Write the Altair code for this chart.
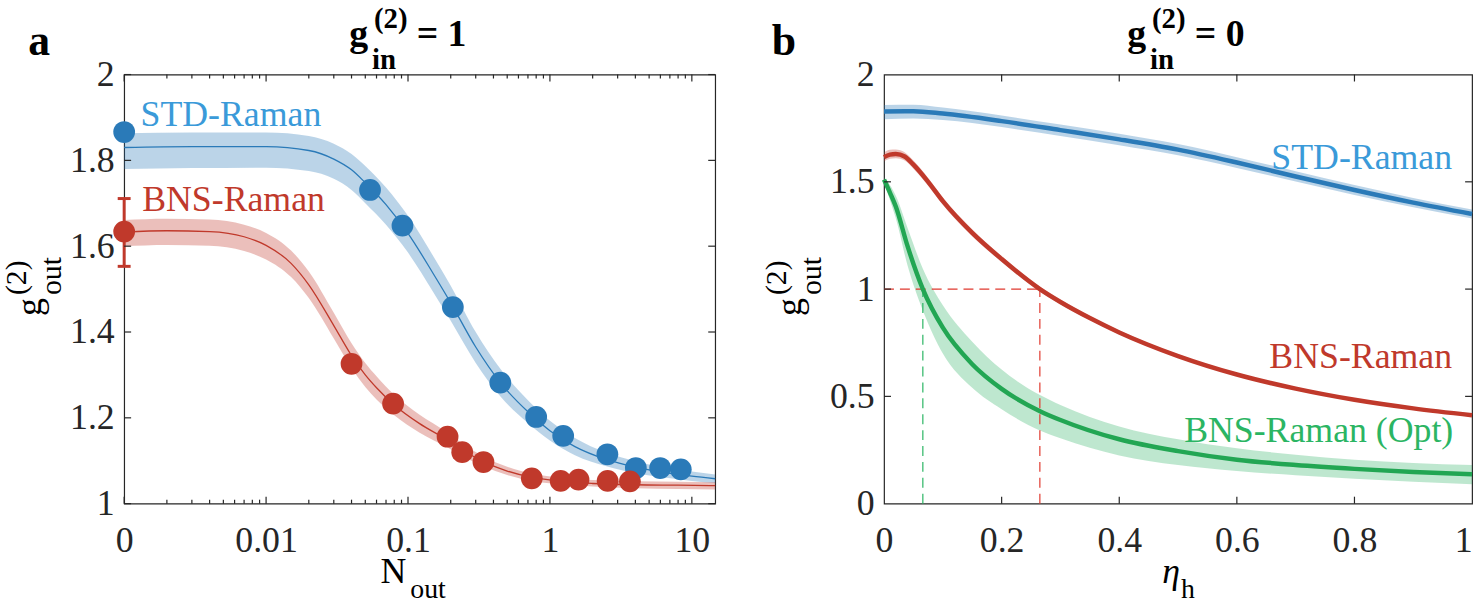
import altair as alt
import pandas as pd

FONT = "Liberation Serif"
INK = "#262626"
BLUE = "#2a7ab8"
BLUE_TXT = "#3a9ad9"
RED = "#c0392b"
GREEN = "#22a653"
GREEN_TXT = "#2bb563"

# ---------------- panel a: g2_out versus N_out ----------------
std_n = [0.001, 0.054, 0.0914, 0.207, 0.447, 0.80, 1.24, 2.54, 4.03, 5.98, 8.36]
std_g = [1.866, 1.731, 1.648, 1.458, 1.282, 1.202, 1.158, 1.115, 1.083, 1.083, 1.080]
bns_n = [0.001, 0.040, 0.0785, 0.190, 0.241, 0.340, 0.745, 1.19, 1.59, 2.55, 3.66]
bns_g = [1.634, 1.326, 1.233, 1.156, 1.120, 1.097, 1.059, 1.053, 1.056, 1.053, 1.052]
bns_err_n = [0.001]
bns_err_lo = [1.553]
bns_err_hi = [1.711]

std_fit_n = [0.001, 0.003, 0.01, 0.02, 0.03, 0.04, 0.05, 0.07, 0.1, 0.15, 0.2,
             0.3, 0.45, 0.7, 1.0, 1.5, 2.5, 4.0, 6.0, 10.0, 14.6]
std_fit_g = [1.830, 1.832, 1.832, 1.823, 1.803, 1.778, 1.748, 1.697, 1.630, 1.537, 1.468,
             1.365, 1.281, 1.214, 1.170, 1.133, 1.103, 1.085, 1.074, 1.064, 1.058]
std_fit_lo = [1.780, 1.782, 1.783, 1.775, 1.757, 1.731, 1.700, 1.650, 1.585, 1.494, 1.426,
              1.328, 1.249, 1.188, 1.147, 1.113, 1.087, 1.071, 1.062, 1.053, 1.048]
std_fit_hi = [1.863, 1.865, 1.865, 1.857, 1.839, 1.815, 1.787, 1.737, 1.671, 1.578, 1.508,
              1.400, 1.313, 1.241, 1.193, 1.153, 1.119, 1.099, 1.086, 1.075, 1.068]

bns_fit_n = [0.001, 0.002, 0.004, 0.007, 0.01, 0.015, 0.02, 0.03, 0.04, 0.05, 0.06, 0.08,
             0.12, 0.19, 0.25, 0.34, 0.5, 0.75, 1.2, 2.0, 4.0, 8.0, 14.6]
bns_fit_g = [1.633, 1.636, 1.634, 1.622, 1.602, 1.560, 1.510, 1.415, 1.345, 1.300, 1.270, 1.230,
             1.187, 1.148, 1.122, 1.098, 1.076, 1.061, 1.052, 1.047, 1.044, 1.043, 1.042]
bns_fit_lo = [1.600, 1.603, 1.601, 1.589, 1.569, 1.528, 1.479, 1.385, 1.316, 1.272, 1.243, 1.206,
              1.166, 1.131, 1.108, 1.087, 1.067, 1.053, 1.045, 1.040, 1.036, 1.034, 1.033]
bns_fit_hi = [1.661, 1.664, 1.662, 1.650, 1.631, 1.590, 1.541, 1.445, 1.374, 1.328, 1.297, 1.254,
              1.208, 1.166, 1.137, 1.110, 1.086, 1.070, 1.060, 1.055, 1.052, 1.051, 1.050]

# ---------------- panel b: g2_out versus heralding efficiency ----------------
eta_std = [0, 0.05, 0.1, 0.2, 0.3, 0.4, 0.5, 0.6, 0.7, 0.8, 0.9, 1.0]
std_b = [1.828, 1.829, 1.818, 1.783, 1.741, 1.698, 1.650, 1.590, 1.525, 1.462, 1.403, 1.350]
std_b_lo = [1.792, 1.795, 1.788, 1.755, 1.714, 1.671, 1.624, 1.565, 1.501, 1.439, 1.381, 1.329]
std_b_hi = [1.858, 1.859, 1.846, 1.809, 1.767, 1.724, 1.676, 1.615, 1.549, 1.485, 1.425, 1.371]

eta_bns = [0, 0.01, 0.02, 0.035, 0.05, 0.075, 0.1, 0.15, 0.2, 0.265, 0.3, 0.35, 0.4,
           0.5, 0.6, 0.7, 0.8, 0.9, 1.0]
bns_b = [1.615, 1.627, 1.630, 1.618, 1.580, 1.500, 1.410, 1.262, 1.140, 1.000, 0.940, 0.865,
         0.798, 0.688, 0.602, 0.536, 0.484, 0.444, 0.412]
bns_b_lo = [1.595, 1.607, 1.610, 1.599, 1.561, 1.482, 1.393, 1.246, 1.126, 0.988, 0.929, 0.855,
            0.789, 0.680, 0.595, 0.530, 0.478, 0.439, 0.407]
bns_b_hi = [1.637, 1.649, 1.651, 1.638, 1.599, 1.518, 1.427, 1.278, 1.154, 1.012, 0.951, 0.875,
            0.807, 0.696, 0.609, 0.542, 0.490, 0.449, 0.417]

eta_opt = [0, 0.01, 0.02, 0.04, 0.066, 0.1, 0.15, 0.2, 0.266, 0.3, 0.4, 0.5, 0.6, 0.7, 0.8, 0.9, 1.0]
opt_b = [1.510, 1.450, 1.385, 1.200, 1.000, 0.820, 0.650, 0.535, 0.430, 0.390, 0.300, 0.245,
         0.205, 0.180, 0.162, 0.148, 0.137]
opt_b_lo = [1.500, 1.415, 1.330, 1.110, 0.900, 0.700, 0.540, 0.440, 0.340, 0.305, 0.225, 0.180,
            0.152, 0.132, 0.116, 0.102, 0.090]
opt_b_hi = [1.520, 1.485, 1.435, 1.285, 1.095, 0.925, 0.755, 0.625, 0.505, 0.460, 0.360, 0.300,
            0.258, 0.228, 0.205, 0.190, 0.180]

# efficiency at which g2_out reaches 1
cross_bns = 0.265
cross_opt = 0.066

# axis tick values
xa_major = [0.001, 0.01, 0.1, 1, 10]
xa_minor = [k * 10.0 ** e for e in range(-3, 2) for k in range(2, 10) if k * 10.0 ** e < 14.6]
ya_ticks = [1.0, 1.2, 1.4, 1.6, 1.8, 2.0]
xb_ticks = [0, 0.2, 0.4, 0.6, 0.8, 1.0]
yb_ticks = [0, 0.5, 1.0, 1.5, 2.0]

WA, WB, H = 595, 592, 432
one = pd.DataFrame({"k": [0]})


def make_axis(values, fmt, pad, **extra):
    return alt.Axis(values=values, format=fmt, title=None, ticks=False, tickSize=0,
                    domain=False, grid=False, labelFont=FONT, labelFontSize=36,
                    labelColor=INK, labelPadding=pad, labelFlush=False,
                    labelOverlap=False, **extra)


sxa = alt.Scale(type="log", domain=[0.001, 14.6], nice=False)
sya = alt.Scale(domain=[1, 2], nice=False, zero=False)
sxb = alt.Scale(domain=[0, 1], nice=False, zero=False)
syb = alt.Scale(domain=[0, 2], nice=False, zero=False)
axa = make_axis(xa_major, ".2~f", 20)
aya = make_axis(ya_ticks, ".1~f", 10)
axb = make_axis(xb_ticks, ".1~f", 20,
                labelAlign={"condition": {"test": "datum.value == 1", "value": "right"},
                            "value": "center"})
ayb = make_axis(yb_ticks, ".1~f", 10)


def XA(f="x"):
    return alt.X(f"{f}:Q", scale=sxa, axis=axa)


def YA(f="y"):
    return alt.Y(f"{f}:Q", scale=sya, axis=aya)


def XB(f="x"):
    return alt.X(f"{f}:Q", scale=sxb, axis=axb)


def YB(f="y"):
    return alt.Y(f"{f}:Q", scale=syb, axis=ayb)


def txt(text, x, y, size, weight="normal", style="normal", angle=0, color="black"):
    return alt.Chart(one).mark_text(
        text=text, font=FONT, fontSize=size, fontWeight=weight, fontStyle=style,
        angle=angle, align="left", baseline="alphabetic", color=color
    ).encode(x=alt.value(x), y=alt.value(y))


def inner_ticks(xvals, yvals, X, Y, width, major=7, minor=None, minor_len=4):
    """Inward-pointing ticks on all four sides of the box."""
    out = []
    dx = pd.DataFrame({"v": xvals})
    dy = pd.DataFrame({"v": yvals})
    rule = dict(color=INK, strokeWidth=1.2)
    out.append(alt.Chart(dx).mark_rule(**rule).encode(x=X("v"), y=alt.value(H - major), y2=alt.value(H)))
    out.append(alt.Chart(dx).mark_rule(**rule).encode(x=X("v"), y=alt.value(0), y2=alt.value(major)))
    out.append(alt.Chart(dy).mark_rule(**rule).encode(y=Y("v"), x=alt.value(0), x2=alt.value(major)))
    out.append(alt.Chart(dy).mark_rule(**rule).encode(y=Y("v"), x=alt.value(width - major), x2=alt.value(width)))
    if minor:
        dm = pd.DataFrame({"v": minor})
        out.append(alt.Chart(dm).mark_rule(**rule).encode(x=X("v"), y=alt.value(H - minor_len), y2=alt.value(H)))
        out.append(alt.Chart(dm).mark_rule(**rule).encode(x=X("v"), y=alt.value(0), y2=alt.value(minor_len)))
    return out


# ---------------- build panel a ----------------
std_band = pd.DataFrame({"x": std_fit_n, "lo": std_fit_lo, "hi": std_fit_hi, "y": std_fit_g})
bns_band = pd.DataFrame({"x": bns_fit_n, "lo": bns_fit_lo, "hi": bns_fit_hi, "y": bns_fit_g})
std_pts = pd.DataFrame({"x": std_n, "y": std_g})
bns_pts = pd.DataFrame({"x": bns_n, "y": bns_g})
bns_err = pd.DataFrame({"x": bns_err_n, "lo": bns_err_lo, "hi": bns_err_hi})

a_layers = [
    alt.Chart(one).mark_rect(opacity=0).encode(
        x=alt.value(-123.5), x2=alt.value(-122.5), y=alt.value(-72), y2=alt.value(-71)),
    alt.Chart(std_band).mark_area(color=BLUE, opacity=0.32, interpolate="monotone").encode(
        x=XA(), y=YA("lo"), y2="hi:Q"),
    alt.Chart(bns_band).mark_area(color=RED, opacity=0.32, interpolate="monotone").encode(
        x=XA(), y=YA("lo"), y2="hi:Q"),
    alt.Chart(std_band).mark_line(color=BLUE, strokeWidth=1.3, interpolate="monotone").encode(
        x=XA(), y=YA()),
    alt.Chart(bns_band).mark_line(color=RED, strokeWidth=1.3, interpolate="monotone").encode(
        x=XA(), y=YA()),
    alt.Chart(bns_err).mark_rule(color=RED, strokeWidth=3).encode(x=XA(), y=YA("lo"), y2="hi:Q"),
    alt.Chart(bns_err).mark_rule(color=RED, strokeWidth=3, xOffset=-6.5, x2Offset=6.5).encode(
        x=XA(), x2="x:Q", y=YA("lo")),
    alt.Chart(bns_err).mark_rule(color=RED, strokeWidth=3, xOffset=-6.5, x2Offset=6.5).encode(
        x=XA(), x2="x:Q", y=YA("hi")),
    alt.Chart(std_pts).mark_circle(color=BLUE, size=480, opacity=1).encode(x=XA(), y=YA()),
    alt.Chart(bns_pts).mark_circle(color=RED, size=480, opacity=1).encode(x=XA(), y=YA()),
    alt.Chart(pd.DataFrame({"x": [0.001305], "y": [1.880], "t": ["STD-Raman"]})).mark_text(
        align="left", baseline="alphabetic", font=FONT, fontSize=36, color=BLUE_TXT).encode(
        x=XA(), y=YA(), text="t:N"),
    alt.Chart(pd.DataFrame({"x": [0.00134], "y": [1.681], "t": ["BNS-Raman"]})).mark_text(
        align="left", baseline="alphabetic", font=FONT, fontSize=36, color=RED).encode(
        x=XA(), y=YA(), text="t:N"),
    # panel letter and title  g_in^(2) = 1
    txt("a", -96.5, -20, 44, weight="bold"),
    txt("g", 226.5, -29, 38, weight="bold"),
    txt("(2)", 251.5, -47, 29, weight="bold"),
    txt("in", 249.5, -6, 29, weight="bold"),
    txt("= 1", 294.5, -29, 38, weight="bold"),
    # y title  g_out^(2)
    txt("g", -83.5, 243, 36, angle=270),
    txt("(2)", -99, 222, 30, angle=270),
    txt("out", -63.5, 222, 30, angle=270),
    # x title  N_out
    txt("N", 258, 512, 36),
    txt("out", 288, 527, 28),
] + inner_ticks(xa_major, ya_ticks, XA, YA, WA, minor=xa_minor)

panel_a = alt.layer(*a_layers).properties(width=WA, height=H)

# ---------------- build panel b ----------------
std_b_df = pd.DataFrame({"x": eta_std, "y": std_b, "lo": std_b_lo, "hi": std_b_hi})
bns_b_df = pd.DataFrame({"x": eta_bns, "y": bns_b, "lo": bns_b_lo, "hi": bns_b_hi})
opt_b_df = pd.DataFrame({"x": eta_opt, "y": opt_b, "lo": opt_b_lo, "hi": opt_b_hi})

dash = [10, 6]
b_layers = [
    alt.Chart(std_b_df).mark_area(color=BLUE, opacity=0.32, interpolate="monotone").encode(
        x=XB(), y=YB("lo"), y2="hi:Q"),
    alt.Chart(bns_b_df).mark_area(color=RED, opacity=0.32, interpolate="monotone").encode(
        x=XB(), y=YB("lo"), y2="hi:Q"),
    alt.Chart(opt_b_df).mark_area(color="#27ae60", opacity=0.3, interpolate="monotone").encode(
        x=XB(), y=YB("lo"), y2="hi:Q"),
    alt.Chart(pd.DataFrame({"x": [cross_opt], "lo": [0.0], "hi": [1.0]})).mark_rule(
        color=GREEN_TXT, strokeWidth=1.2, strokeDash=dash).encode(x=XB(), y=YB("lo"), y2="hi:Q"),
    alt.Chart(pd.DataFrame({"x": [cross_bns], "lo": [0.0], "hi": [1.0]})).mark_rule(
        color="#e0392f", strokeWidth=1.2, strokeDash=dash).encode(x=XB(), y=YB("lo"), y2="hi:Q"),
    alt.Chart(pd.DataFrame({"x": [0.0], "x2": [cross_bns], "y": [1.0]})).mark_rule(
        color="#e0392f", strokeWidth=1.2, strokeDash=dash).encode(x=XB(), x2="x2:Q", y=YB()),
    alt.Chart(std_b_df).mark_line(color=BLUE, strokeWidth=4.5, interpolate="monotone").encode(
        x=XB(), y=YB()),
    alt.Chart(bns_b_df).mark_line(color=RED, strokeWidth=4.5, interpolate="monotone").encode(
        x=XB(), y=YB()),
    alt.Chart(opt_b_df).mark_line(color=GREEN, strokeWidth=4.5, interpolate="monotone").encode(
        x=XB(), y=YB()),
    alt.Chart(pd.DataFrame({"x": [0.966, 0.966, 0.968], "y": [1.562, 0.634, 0.288],
                            "t": ["STD-Raman", "BNS-Raman", "BNS-Raman (Opt)"],
                            "c": ["std", "bns", "opt"]})).mark_text(
        align="right", baseline="alphabetic", font=FONT, fontSize=36).encode(
        x=XB(), y=YB(), text="t:N",
        color=alt.Color("c:N", scale=alt.Scale(domain=["std", "bns", "opt"],
                                                range=[BLUE_TXT, RED, GREEN_TXT]), legend=None)),
    txt("b", -113, -20, 44, weight="bold"),
    txt("g", 244.8, -29, 38, weight="bold"),
    txt("(2)", 269.8, -47, 29, weight="bold"),
    txt("in", 267.8, -6, 29, weight="bold"),
    txt("= 0", 312.8, -29, 38, weight="bold"),
    txt("g", -83.5, 243, 36, angle=270),
    txt("(2)", -99, 222, 30, angle=270),
    txt("out", -63.5, 222, 30, angle=270),
    txt("\u03b7", 280, 512, 36, style="italic"),
    txt("h", 299, 527, 28),
] + inner_ticks(xb_ticks[1:-1], yb_ticks[1:-1], XB, YB, WB)

panel_b = alt.layer(*b_layers).properties(width=WB, height=H)

chart = alt.hconcat(panel_a, panel_b, spacing=170, bounds="flush").properties(
    padding=0, background="white"
).configure_view(stroke=INK, strokeWidth=1.2)

chart.save("out.html", embed_options={"renderer": "svg", "actions": False})
